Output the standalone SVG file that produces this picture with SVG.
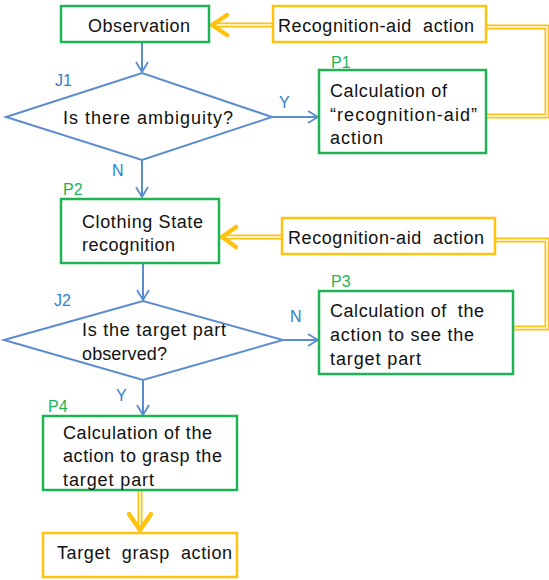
<svg xmlns="http://www.w3.org/2000/svg" width="549" height="580" viewBox="0 0 549 580">
<defs>
<style>
.g{fill:#fff;stroke:#1db454;stroke-width:2.5}
.y{fill:#fff;stroke:#ffc20e;stroke-width:2.5}
.d{fill:#fff;stroke:#5b8ccf;stroke-width:2}
.t{font-family:"Liberation Sans",Arial,sans-serif;font-size:18px;fill:#111}
.lb{font-family:"Liberation Sans",Arial,sans-serif;font-size:16px;fill:#2a7fd0}
.lg{font-family:"Liberation Sans",Arial,sans-serif;font-size:16px;fill:#1db454}
.bl{fill:none;stroke:#5b8ccf;stroke-width:2}
.yo{fill:none;stroke:#ffc20e;stroke-width:5}
.yi{fill:none;stroke:#fff;stroke-width:1.5}
.yh{fill:none;stroke:#ffc20e;stroke-width:4.5;stroke-linecap:round;stroke-linejoin:round}
</style>
<marker id="ab" markerWidth="14" markerHeight="14" refX="12" refY="7" orient="auto" markerUnits="userSpaceOnUse">
<path d="M2,1 L12,7 L2,13" fill="none" stroke="#5b8ccf" stroke-width="1.8"/>
</marker>
</defs>
<rect width="549" height="580" fill="#fff"/>
<g id="connectors">
<line class="bl" x1="142" y1="43" x2="142" y2="72" marker-end="url(#ab)"/>
<line class="bl" x1="142" y1="160" x2="142" y2="197" marker-end="url(#ab)"/>
<line class="bl" x1="272" y1="117" x2="318" y2="117" marker-end="url(#ab)"/>
<line class="bl" x1="143" y1="263" x2="143" y2="300" marker-end="url(#ab)"/>
<line class="bl" x1="283" y1="340" x2="318" y2="340" marker-end="url(#ab)"/>
<line class="bl" x1="143" y1="380" x2="143" y2="415" marker-end="url(#ab)"/>
<path class="yo" d="M486,116 H547 V27 H486"/>
<path class="yi" d="M486,116 H547 V27 H486"/>
<path class="yo" d="M273,25 H214"/>
<path class="yi" d="M273,25 H214"/>
<path class="yh" d="M227,15 L212,25 L227,35"/>
<path class="yo" d="M513,328 H547 V240 H495"/>
<path class="yi" d="M513,328 H547 V240 H495"/>
<path class="yo" d="M282,237 H224"/>
<path class="yi" d="M282,237 H224"/>
<path class="yh" d="M236,227 L222,237 L236,247"/>
<path class="yo" d="M140,491 V528"/>
<path class="yi" d="M140,491 V528"/>
<path class="yh" d="M129,514 L140,530 L151,514"/>
</g>
<g id="observation"><rect class="g" x="61" y="6" width="148" height="36"/><text class="t" x="88" y="32" textLength="102">Observation</text></g>
<g id="recog1"><rect class="y" x="273" y="6" width="213" height="36"/><text class="t" x="278" y="32" textLength="196" xml:space="preserve">Recognition-aid  action</text></g>
<g id="j1"><polygon class="d" points="6,117 142,73 272,117 142,160"/><text class="t" x="63" y="124" textLength="170" xml:space="preserve">Is there ambiguity?</text><text class="lb" x="55" y="86">J1</text></g>
<g id="p1"><rect class="g" x="319" y="70" width="167" height="83"/><text class="t" x="330" y="97" textLength="117">Calculation of</text><text class="t" x="330" y="121" textLength="147">“recognition-aid”</text><text class="t" x="330" y="144" textLength="53">action</text><text class="lg" x="331" y="68">P1</text></g>
<text class="lb" x="279" y="108">Y</text>
<text class="lb" x="112" y="176">N</text>
<g id="p2"><rect class="g" x="61" y="199" width="158" height="64"/><text class="t" x="82" y="228" textLength="121">Clothing State</text><text class="t" x="82" y="251" textLength="93">recognition</text><text class="lg" x="63" y="195">P2</text></g>
<g id="recog2"><rect class="y" x="282" y="218" width="213" height="36"/><text class="t" x="288" y="244" textLength="196" xml:space="preserve">Recognition-aid  action</text></g>
<g id="j2"><polygon class="d" points="4,340 143,301 283,340 143,380"/><text class="t" x="82" y="336" textLength="144">Is the target part</text><text class="t" x="82" y="360" textLength="85">observed?</text><text class="lb" x="54" y="306">J2</text></g>
<g id="p3"><rect class="g" x="319" y="291" width="194" height="83"/><text class="t" x="330" y="317" textLength="154" xml:space="preserve">Calculation of  the</text><text class="t" x="330" y="341" textLength="144">action to see the</text><text class="t" x="330" y="365" textLength="91">target part</text><text class="lg" x="331" y="287">P3</text></g>
<text class="lb" x="290" y="322">N</text>
<text class="lb" x="116" y="401">Y</text>
<g id="p4"><rect class="g" x="43" y="416" width="194" height="74"/><text class="t" x="63" y="439" textLength="149">Calculation of the</text><text class="t" x="63" y="462" textLength="159">action to grasp the</text><text class="t" x="63" y="486" textLength="91">target part</text><text class="lg" x="48" y="412">P4</text></g>
<g id="target"><rect class="y" x="43" y="533" width="194" height="44"/><text class="t" x="57" y="559" textLength="175" xml:space="preserve">Target  grasp  action</text></g>
</svg>
